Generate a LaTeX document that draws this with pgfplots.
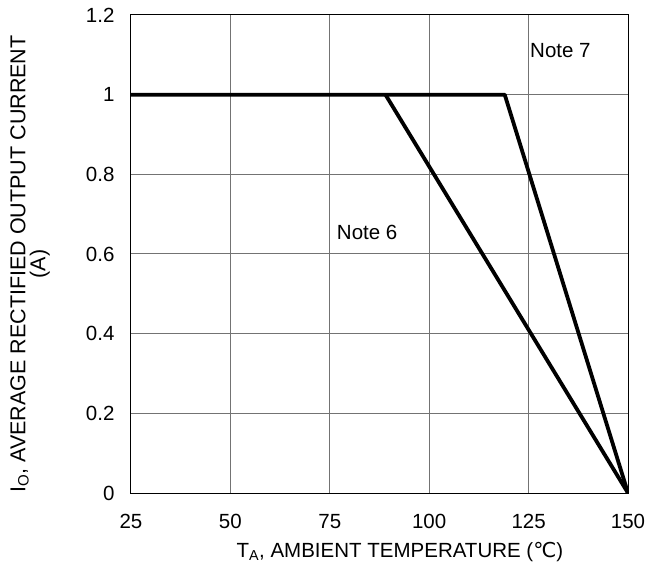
\documentclass[border=0pt]{standalone}
\usepackage{pgfplots}
\pgfplotsset{compat=1.18}
\usepackage{fontspec}
\setmainfont{Liberation Sans}
\newfontfamily\symfont{DejaVu Sans}
\newcommand{\lbl}{\fontsize{20.5bp}{18bp}\selectfont}
\begin{document}
\begin{tikzpicture}
% page frame: same margins as the reference
\path[use as bounding box] (-131bp,-76bp) rectangle (516bp,493bp);
\begin{axis}[
    anchor=south west, at={(0,0)},
    scale only axis,
    width=497bp, height=478bp,
    xmin=25, xmax=150, ymin=0, ymax=1.2,
    xtick={25,50,75,100,125,150},
    ytick={0,0.2,0.4,0.6,0.8,1,1.2},
    yticklabels={0,0.2,0.4,0.6,0.8,1,1.2},
    grid=major,
    major grid style={black!55, line width=1bp},
    major tick length=0pt,
    axis line style={black, line width=1bp},
    tick label style={font=\lbl},
    /pgf/number format/assume math mode=true,
    xticklabel style={anchor=base, yshift=-35.5bp},
    yticklabel style={xshift=-13bp},
    xlabel={T\textsubscript{A}, AMBIENT TEMPERATURE ({\symfont ℃})},
    ylabel={I\textsubscript{O}, AVERAGE RECTIFIED OUTPUT CURRENT\\(A)},
    xlabel style={font=\lbl, at={(axis description cs:0.541,-0.134)}, anchor=base},
    ylabel style={font=\fontsize{21.5bp}{18.5bp}\selectfont, align=center,
        at={(axis description cs:-0.203,0.479)}, anchor=center},
]
\addplot[black, line width=3.8bp, line join=round] coordinates {
    (25,1) (119,1) (150,0)
};
\addplot[black, line width=3.8bp, line join=round] coordinates {
    (89,1) (150,0)
};
\node[font=\lbl] at (axis cs:133,1.112) {Note 7};
\node[font=\lbl] at (axis cs:84.4,0.655) {Note 6};
\end{axis}
\end{tikzpicture}
\end{document}
